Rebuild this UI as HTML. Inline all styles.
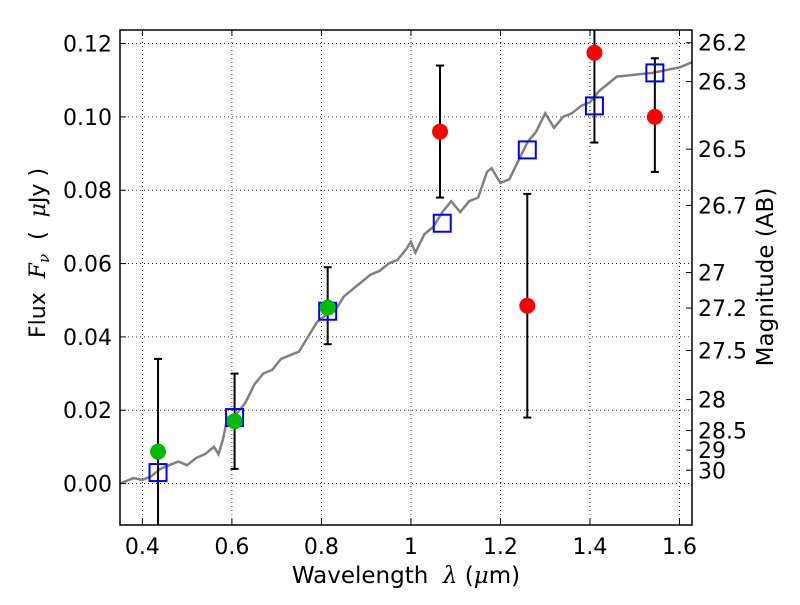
<!DOCTYPE html>
<html><head><meta charset="utf-8"><style>
body{margin:0;background:#fff;}
svg{font-family:"DejaVu Sans","Liberation Sans",sans-serif;}
</style></head><body>
<svg id="chart" width="800" height="600"></svg>
<script>
const specX=[0.35,0.37,0.38,0.40,0.42,0.44,0.46,0.48,0.50,0.52,0.54,0.56,0.57,0.58,0.59,0.61,0.63,0.65,0.67,0.69,0.71,0.73,0.75,0.77,0.79,0.81,0.83,0.85,0.87,0.89,0.91,0.93,0.95,0.97,0.99,1.00,1.01,1.03,1.05,1.07,1.09,1.11,1.13,1.15,1.17,1.18,1.20,1.22,1.24,1.26,1.28,1.30,1.32,1.34,1.36,1.38,1.40,1.42,1.44,1.46,1.50,1.54,1.58,1.60,1.63];
const specY=[0.000,0.001,0.0015,0.001,0.002,0.004,0.005,0.006,0.005,0.007,0.008,0.010,0.008,0.012,0.018,0.019,0.022,0.027,0.030,0.031,0.034,0.035,0.036,0.040,0.044,0.046,0.047,0.051,0.053,0.055,0.057,0.058,0.060,0.061,0.064,0.066,0.063,0.068,0.070,0.074,0.077,0.074,0.077,0.078,0.085,0.086,0.082,0.083,0.088,0.093,0.096,0.101,0.097,0.100,0.101,0.103,0.104,0.107,0.109,0.111,0.1115,0.112,0.113,0.1135,0.115];
const modelX=[0.435,0.606,0.814,1.07,1.26,1.41,1.545];
const modelY=[0.003,0.018,0.047,0.071,0.091,0.103,0.112];
const greenX=[0.435,0.606,0.814];
const greenY=[0.0087,0.017,0.048];
const greenLo=[-0.02,0.004,0.038];
const greenHi=[0.034,0.030,0.059];
const redX=[1.065,1.26,1.41,1.545];
const redY=[0.096,0.0485,0.1175,0.100];
const redLo=[0.078,0.018,0.093,0.085];
const redHi=[0.114,0.079,0.14,0.116];
const xTicks=[0.4,0.6,0.8,1.0,1.2,1.4,1.6];
const xTickLabels=["0.4","0.6","0.8","1","1.2","1.4","1.6"];
const yTicks=[0,0.02,0.04,0.06,0.08,0.10,0.12];
const yTickLabels=["0.00","0.02","0.04","0.06","0.08","0.10","0.12"];
const magTicks=[26.2,26.3,26.5,26.7,27,27.2,27.5,28,28.5,29,30];

const L=120,R=692,T=30,B=525;
const X0=0.35,X1=1.628,Y0=-0.0113,Y1=0.1237;
const sx=v=>L+(v-X0)/(X1-X0)*(R-L);
const sy=v=>B-(v-Y0)/(Y1-Y0)*(B-T);
const svg=document.getElementById('chart');
const NS='http://www.w3.org/2000/svg';
function mk(tag,attrs,parent){const e=document.createElementNS(NS,tag);for(const k in attrs)e.setAttribute(k,attrs[k]);(parent||svg).appendChild(e);return e;}
const clip=mk('clipPath',{id:'pc'});mk('rect',{x:L,y:T,width:R-L,height:B-T},clip);
const g=mk('g',{'clip-path':'url(#pc)'});
xTicks.forEach((v,i)=>{
 const l=mk('line',{x1:sx(v),x2:sx(v),y1:T,y2:B,stroke:'#000','stroke-width':0.8,'stroke-dasharray':'1,3'},g);
 
 mk('line',{x1:sx(v),x2:sx(v),y1:B,y2:B-6,stroke:'#000'});mk('line',{x1:sx(v),x2:sx(v),y1:T,y2:T+6,stroke:'#000'});
 const t=mk('text',{x:sx(v),y:B+29,'text-anchor':'middle','font-size':22});t.textContent=xTickLabels[i];
 
});
yTicks.forEach((v,i)=>{
 const l=mk('line',{x1:L,x2:R,y1:sy(v),y2:sy(v),stroke:'#000','stroke-width':0.8,'stroke-dasharray':'1,3'},g);
 
 mk('line',{x1:L,x2:L+6,y1:sy(v),y2:sy(v),stroke:'#000'});
 const t=mk('text',{x:L-8,y:sy(v)+8,'text-anchor':'end','font-size':22});t.textContent=yTickLabels[i];
 
});
magTicks.forEach(m=>{
 const f=Math.pow(10,(23.9-m)/2.5);
 mk('line',{x1:R-6,x2:R,y1:sy(f),y2:sy(f),stroke:'#000'});
 const t=mk('text',{x:R+6,y:sy(f)+8,'font-size':22});t.textContent=String(m);
 
});
const d=specX.map((x,i)=>(i?'L':'M')+sx(x).toFixed(1)+','+sy(specY[i]).toFixed(1)).join('');
const sp=mk('path',{d:d,fill:'none',stroke:'#808080','stroke-width':2.5},g);

function err(xs,lo,hi){xs.forEach((x,i)=>{
 const e=mk('line',{x1:sx(x),x2:sx(x),y1:sy(lo[i]),y2:sy(hi[i]),stroke:'#000','stroke-width':2},g);
 
 mk('line',{x1:sx(x)-4,x2:sx(x)+4,y1:sy(lo[i]),y2:sy(lo[i]),stroke:'#000','stroke-width':2},g);
 mk('line',{x1:sx(x)-4,x2:sx(x)+4,y1:sy(hi[i]),y2:sy(hi[i]),stroke:'#000','stroke-width':2},g);
});}
err(greenX,greenLo,greenHi);err(redX,redLo,redHi);
modelX.forEach((x,i)=>{
 const r=mk('rect',{x:sx(x)-8.5,y:sy(modelY[i])-8.5,width:17,height:17,fill:'none',stroke:'#0000ff','stroke-width':2},g);
 
});
greenX.forEach((x,i)=>{
 const c=mk('circle',{cx:sx(x),cy:sy(greenY[i]),r:8,fill:'#00bb00'},g);
 
});
redX.forEach((x,i)=>{
 const c=mk('circle',{cx:sx(x),cy:sy(redY[i]),r:8,fill:'#ff0000'},g);
 
});
const fr=mk('rect',{x:L,y:T,width:R-L,height:B-T,fill:'none',stroke:'#000','stroke-width':1.5});

</script>
<svg width="800" height="600" style="position:absolute;left:0;top:0" font-family="DejaVu Sans, sans-serif">
<text x="406" y="583" text-anchor="middle" font-size="23" xml:space="preserve">Wavelength  <tspan font-family="DejaVu Serif, serif" font-style="italic">λ</tspan> (<tspan font-family="DejaVu Serif, serif" font-style="italic">μ</tspan>m)</text>
<text transform="translate(45,253) rotate(-90)" text-anchor="middle" font-size="22" xml:space="preserve">Flux  <tspan font-family="DejaVu Serif, serif" font-style="italic">F<tspan font-size="15" dy="4">ν</tspan></tspan><tspan dy="-4">  (  </tspan><tspan font-family="DejaVu Serif, serif" font-style="italic">μ</tspan>Jy )</text>
<text transform="translate(773,277) rotate(-90)" text-anchor="middle" font-size="23">Magnitude (AB)</text>
</svg>
</body></html>
